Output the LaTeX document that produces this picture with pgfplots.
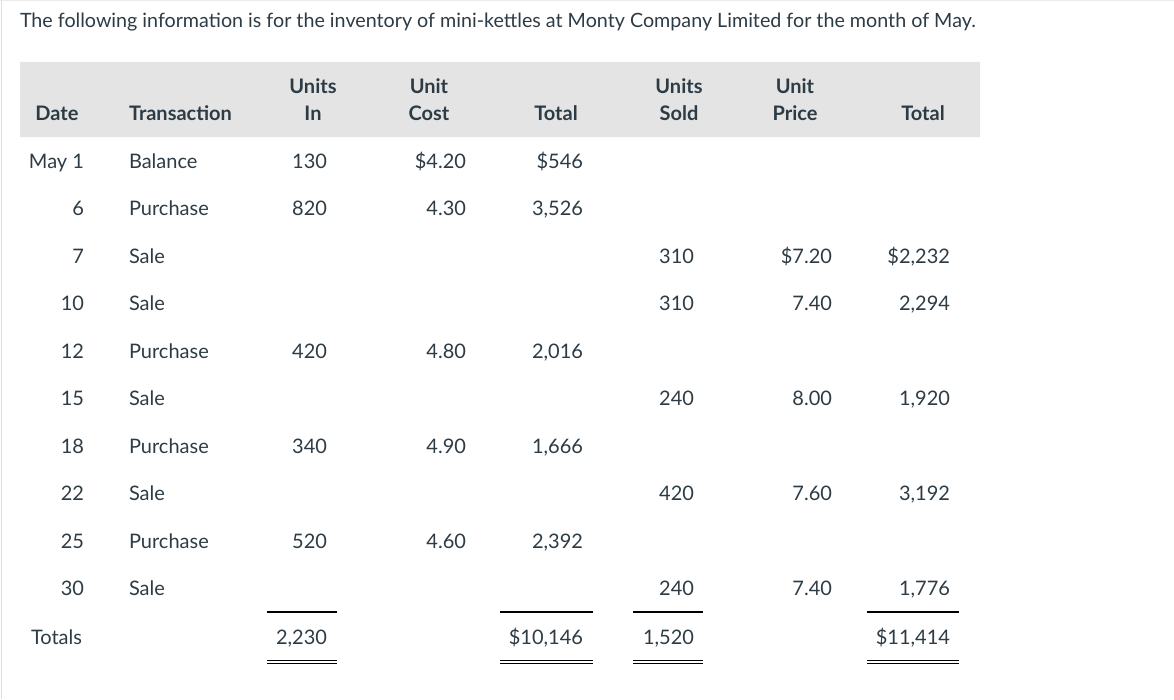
\documentclass[border=0pt]{standalone}
\usepackage{pgfplots}
\pgfplotsset{compat=1.18}
\usepackage{fontspec}
\setmainfont{Lato}
\definecolor{txt}{HTML}{2D3B45}
\definecolor{headgray}{HTML}{E4E4E4}
\definecolor{frame}{HTML}{DDDDDD}
\newcommand{\fs}{\fontsize{20bp}{24bp}\selectfont}
\newcommand{\tfs}{\fontsize{19.7bp}{24bp}\selectfont}
\pgfplotsset{
  lbl/.style={draw=none, mark=none, nodes near coords, point meta=explicit symbolic,
    every node near coord/.append style={anchor=base #1, inner sep=0pt, outer sep=0pt, font=\fs, text=txt}},
  hlbl/.style={draw=none, mark=none, nodes near coords, point meta=explicit symbolic,
    every node near coord/.append style={anchor=base #1, inner sep=0pt, outer sep=0pt, font=\fs\bfseries, text=txt}},
}
\begin{document}
\begin{tikzpicture}
\begin{axis}[
  width=1174bp, height=699bp, scale only axis,
  xmin=0, xmax=1174, ymin=0, ymax=699, y dir=reverse,
  hide axis, clip=false,
]
\path[use as bounding box] (axis cs:0,0) rectangle (axis cs:1174,699);
% frame lines
\addplot[frame, line width=1.2bp] coordinates {(1.5,0) (1.5,699)};
\addplot[black!8, line width=1.5bp] coordinates {(0,0.7) (1174,0.7)};
% header background
\addplot[fill=headgray, draw=none] coordinates {(20,62) (980,62) (980,137) (20,137) (20,62)};
% title
\addplot[draw=none, mark=none, nodes near coords, point meta=explicit symbolic,
    every node near coord/.append style={anchor=base west, inner sep=0pt, outer sep=0pt, font=\tfs, text=txt}]
  coordinates {(20,27.5) [The following information is for the inventory of mini-kettles at Monty Company Limited for the month of May.]};
% header row 1
\addplot[hlbl=] coordinates {(313,93.2) [Units] (429,93.2) [Unit] (679,93.2) [Units] (795,93.2) [Unit]};
% header row 2
\addplot[hlbl=] coordinates {(57,120.7) [Date] (313,120.7) [In] (429,120.7) [Cost] (556,120.7) [Total] (679,120.7) [Sold] (795,120.7) [Price] (923,120.7) [Total]};
\addplot[hlbl=west] coordinates {(129,120.7) [Transaction]};
% Date column
\addplot[lbl=east] coordinates {(84,168) [May 1] (84,215.5) [6] (84,263) [7] (84,310.5) [10] (84,358) [12] (84,405.5) [15] (84,453) [18] (84,500.5) [22] (84,548) [25] (84,595.5) [30]};
\addplot[lbl=west] coordinates {(31,644) [Totals]};
% Transaction
\addplot[lbl=west] coordinates {(129,168) [Balance] (129,215.5) [Purchase] (129,263) [Sale] (129,310.5) [Sale] (129,358) [Purchase] (129,405.5) [Sale] (129,453) [Purchase] (129,500.5) [Sale] (129,548) [Purchase] (129,595.5) [Sale]};
% Units In
\addplot[lbl=east] coordinates {(327,168) [130] (327,215.5) [820] (327,358) [420] (327,453) [340] (327,548) [520] (327,644) [2,230]};
% Unit Cost
\addplot[lbl=east] coordinates {(466,168) [\$4.20] (466,215.5) [4.30] (466,358) [4.80] (466,453) [4.90] (466,548) [4.60]};
% Total (purchases)
\addplot[lbl=east] coordinates {(583,168) [\$546] (583,215.5) [3,526] (583,358) [2,016] (583,453) [1,666] (583,548) [2,392] (583,644) [\$10,146]};
% Units Sold
\addplot[lbl=east] coordinates {(694,263) [310] (694,310.5) [310] (694,405.5) [240] (694,500.5) [420] (694,595.5) [240] (694,644) [1,520]};
% Unit Price
\addplot[lbl=east] coordinates {(832,263) [\$7.20] (832,310.5) [7.40] (832,405.5) [8.00] (832,500.5) [7.60] (832,595.5) [7.40]};
% Total (sales)
\addplot[lbl=east] coordinates {(950,263) [\$2,232] (950,310.5) [2,294] (950,405.5) [1,920] (950,500.5) [3,192] (950,595.5) [1,776] (950,644) [\$11,414]};
% underlines
\addplot[black, line width=1.6bp] coordinates {(267,612) (337,612)};
\addplot[black, line width=1.6bp] coordinates {(500,612) (593,612)};
\addplot[black, line width=1.6bp] coordinates {(633,612) (703,612)};
\addplot[black, line width=1.6bp] coordinates {(867,612) (959,612)};
\addplot[black, line width=1bp] coordinates {(267,660.8) (337,660.8)};
\addplot[black, line width=1bp] coordinates {(267,663.4) (337,663.4)};
\addplot[black, line width=1bp] coordinates {(500,660.8) (593,660.8)};
\addplot[black, line width=1bp] coordinates {(500,663.4) (593,663.4)};
\addplot[black, line width=1bp] coordinates {(633,660.8) (703,660.8)};
\addplot[black, line width=1bp] coordinates {(633,663.4) (703,663.4)};
\addplot[black, line width=1bp] coordinates {(867,660.8) (959,660.8)};
\addplot[black, line width=1bp] coordinates {(867,663.4) (959,663.4)};
\end{axis}
\end{tikzpicture}
\end{document}
